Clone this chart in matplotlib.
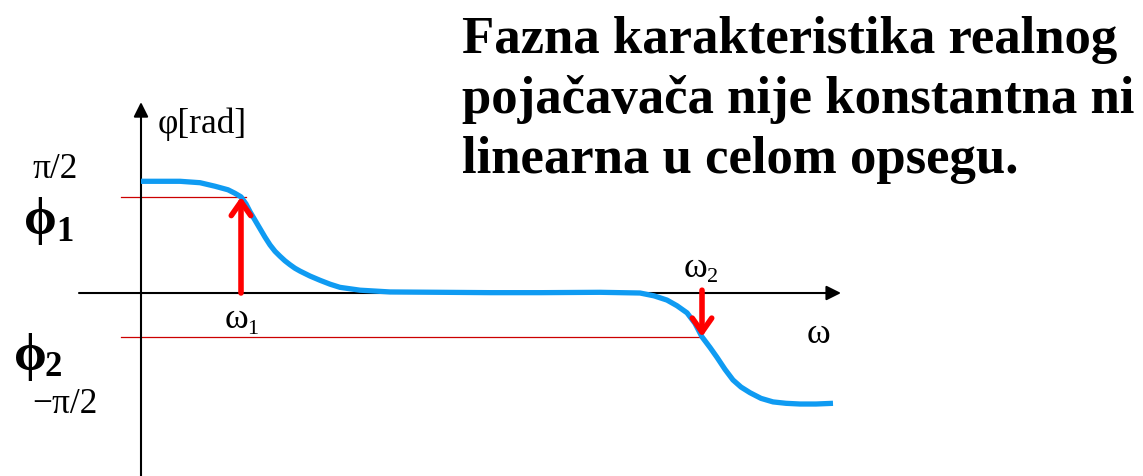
#!/usr/bin/env python3
"""
Phase response sketch of a real amplifier: phase vs. angular frequency,
with the phase shifts phi_1 and phi_2 marked at omega_1 and omega_2.
"""
import numpy as np
import matplotlib
matplotlib.use('Agg')
import matplotlib.pyplot as plt

# phase curve, omega in arbitrary units, phase in rad
omega = [0.0, 0.39, 0.59, 0.74, 0.87, 0.94, 1.00, 1.05, 1.09, 1.14, 1.19, 1.24,
         1.29, 1.34, 1.39, 1.44, 1.49, 1.54, 1.59, 1.69, 1.79, 1.89, 1.99, 2.19,
         2.49, 3.0, 3.5, 4.0, 4.59, 4.79, 4.99, 5.13, 5.26, 5.36, 5.46, 5.54,
         5.61, 5.69, 5.76, 5.84, 5.92, 6.0, 6.09, 6.2, 6.32, 6.45, 6.59, 6.75,
         6.92]
phase = [1.58, 1.58, 1.56, 1.51, 1.46, 1.41, 1.36, 1.26, 1.15, 1.03, 0.91, 0.79,
         0.68, 0.59, 0.52, 0.455, 0.40, 0.35, 0.31, 0.24, 0.18, 0.125, 0.08, 0.04,
         0.015, 0.01, 0.005, 0.005, 0.01, 0.005, 0.0, -0.04, -0.10, -0.18, -0.28,
         -0.43, -0.62, -0.77, -0.91, -1.08, -1.23, -1.33, -1.41, -1.49, -1.54,
         -1.56, -1.57, -1.57, -1.56]

omega_1 = 1.00
omega_2 = 5.61
phi_1 = float(np.interp(omega_1, omega, phase))
phi_2 = float(np.interp(omega_2, omega, phase))

title_lines = ["Fazna karakteristika realnog",
               "pojačavača nije konstantna ni",
               "linearna u celom opsegu."]

SERIF = ['Liberation Serif', 'DejaVu Serif']
CURVE_BLUE = '#0f9bf2'

fig = plt.figure(figsize=(11.43, 4.76), dpi=100)
ax = fig.add_axes([0, 0, 1, 1])
ax.set_xlim(-1.41, 10.02)
ax.set_ylim(-2.588, 4.144)
ax.axis('off')

# coordinate axes with arrow heads
ax.annotate('', xy=(0, 2.70), xytext=(0, -2.60),
            arrowprops=dict(arrowstyle='-|>', color='black', lw=1.5,
                            mutation_scale=22, shrinkA=0, shrinkB=0))
ax.annotate('', xy=(7.0, 0), xytext=(-0.62, 0),
            arrowprops=dict(arrowstyle='-|>', color='black', lw=1.5,
                            mutation_scale=22, shrinkA=0, shrinkB=0))

# guide lines at phi_1 and phi_2
ax.plot([-0.2, omega_1 + 0.05], [phi_1, phi_1], color='#cc0000', lw=0.9)
ax.plot([-0.2, omega_2], [phi_2, phi_2], color='#cc0000', lw=0.9)

ax.plot(omega, phase, color=CURVE_BLUE, lw=3.8, solid_capstyle='butt',
        solid_joinstyle='round', zorder=3)

# red arrows marking the phase at omega_1 and omega_2
ax.annotate('', xy=(omega_1, phi_1), xytext=(omega_1, 0),
            arrowprops=dict(arrowstyle='->,head_length=0.5,head_width=0.35',
                            color='red', lw=4, mutation_scale=20,
                            shrinkA=0, shrinkB=0), zorder=4)
ax.annotate('', xy=(omega_2, phi_2), xytext=(omega_2, 0.04),
            arrowprops=dict(arrowstyle='->,head_length=0.5,head_width=0.35',
                            color='red', lw=4, mutation_scale=20,
                            shrinkA=0, shrinkB=0), zorder=4)

# axis labels and symbols
ax.text(0.17, 2.38, 'φ[rad]', family=SERIF, fontsize=25.5, va='center', ha='left')
ax.text(-0.86, 1.74, 'π/2', family=SERIF, fontsize=25.5, va='center', ha='center')
ax.text(-0.76, -1.58, '−π/2', family=SERIF, fontsize=25.5, va='center', ha='center')

ax.text(-1.01, 1.02, 'ϕ', family=SERIF, fontsize=38, fontweight='bold',
        va='center', ha='center')
ax.text(-0.76, 0.86, '1', family=SERIF, fontsize=25, fontweight='bold',
        va='center', ha='center')
ax.text(-1.11, -0.90, 'ϕ', family=SERIF, fontsize=38, fontweight='bold',
        va='center', ha='center')
ax.text(-0.88, -1.05, '2', family=SERIF, fontsize=25, fontweight='bold',
        va='center', ha='center')

ax.text(0.95, -0.38, 'ω', family=SERIF, fontsize=26, va='center', ha='center')
ax.text(1.12, -0.52, '1', family=SERIF, fontsize=16, va='center', ha='center')
ax.text(5.54, 0.34, 'ω', family=SERIF, fontsize=26, va='center', ha='center')
ax.text(5.72, 0.22, '2', family=SERIF, fontsize=16, va='center', ha='center')
ax.text(6.77, -0.58, 'ω', family=SERIF, fontsize=26, va='center', ha='center')

# heading text, one line at a time
for i, line in enumerate(title_lines):
    fig.text(462 / 1143, 1 - (40 + 60 * i) / 476, line, family=SERIF,
             fontsize=38, fontweight='bold', va='center', ha='left')

fig.savefig('out.png', dpi=100)
plt.close(fig)
